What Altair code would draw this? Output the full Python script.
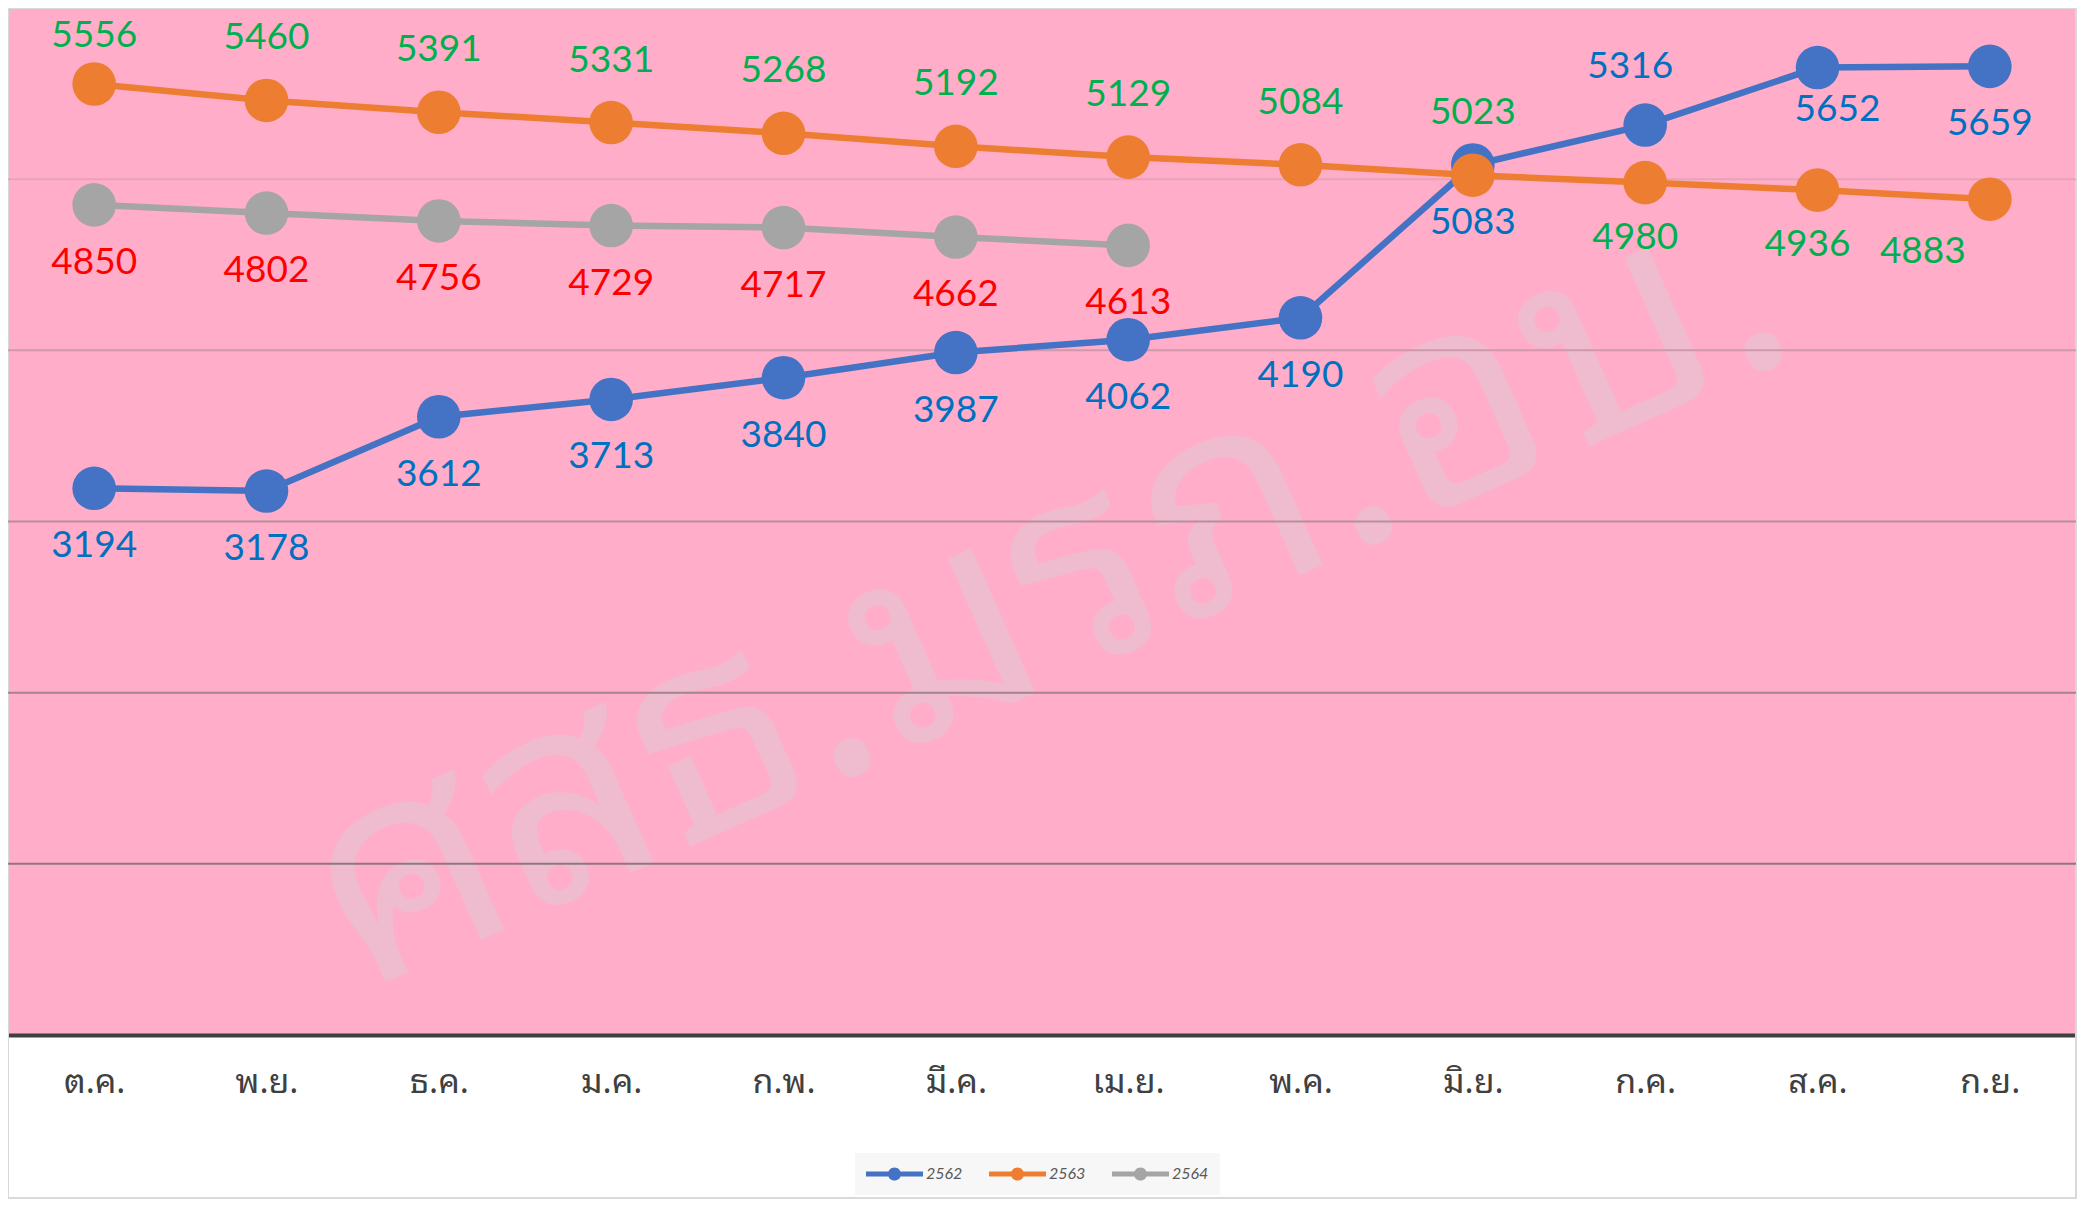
import altair as alt
import pandas as pd

months = ["ต.ค.", "พ.ย.", "ธ.ค.", "ม.ค.", "ก.พ.", "มี.ค.", "เม.ย.", "พ.ค.", "มิ.ย.", "ก.ค.", "ส.ค.", "ก.ย."]
years = ["2562", "2563", "2564"]
y2562 = [3194, 3178, 3612, 3713, 3840, 3987, 4062, 4190, 5083, 5316, 5652, 5659]
y2563 = [5556, 5460, 5391, 5331, 5268, 5192, 5129, 5084, 5023, 4980, 4936, 4883]
y2564 = [4850, 4802, 4756, 4729, 4717, 4662, 4613]
grid_values = [1000, 2000, 3000, 4000, 5000]
watermark = "ศสธ.มรภ.อบ."

line_colors = ["#4472C4", "#ED7D31", "#A5A5A5"]

rows = []
for yr, vals in zip(years, [y2562, y2563, y2564]):
    for m, v in zip(months, vals):
        rows.append({"month": m, "year": yr, "value": v})
df = pd.DataFrame(rows)

W, H = 2068, 1027
THAI = "Noto Sans Thai Looped, Loma, Noto Serif Thai, Garuda, Norasi, Noto Sans Thai, sans-serif"
NUMF = "Lato, Noto Sans, sans-serif"

xenc = alt.X("month:N", sort=months, scale=alt.Scale(type="point", padding=0.5),
             axis=alt.Axis(title=None, labelAngle=0, ticks=False, grid=False,
                           domainColor="#404040", domainWidth=4,
                           labelFontSize=34, labelColor="#404040", labelFont=THAI,
                           labelPadding=30))
yscale = alt.Scale(domain=[0, 6000], nice=False, zero=True)
yenc = alt.Y("value:Q", scale=yscale, axis=None)

base = alt.Chart(df)

border = alt.Chart(pd.DataFrame({"k": [0]})).mark_rect(
    fill="transparent", stroke="#D9D9D9", strokeWidth=2
).encode(x=alt.value(0), x2=alt.value(W), y=alt.value(0), y2=alt.value(1190))

wm = alt.Chart(pd.DataFrame({"t": [watermark]})).mark_text(
    fontSize=285, font=THAI, angle=336, color="#EFBCCF", align="center", baseline="middle"
).encode(text="t:N", x=alt.value(1040), y=alt.value(585))

grid = alt.Chart(pd.DataFrame({"g": grid_values})).mark_rule(strokeWidth=2).encode(
    y=alt.Y("g:Q", scale=yscale, axis=None),
    stroke=alt.Stroke("g:Q", scale=alt.Scale(domain=[1000, 5000], range=["#8C787F", "#E6A3BA"]), legend=None),
)

color_scale = alt.Scale(domain=years, range=line_colors)

legend_path = ("M-1,-0.09 L1,-0.09 L1,0.09 L-1,0.09 Z "
               "M-0.23,0 A0.23,0.23 0 1,1 0.23,0 A0.23,0.23 0 1,1 -0.23,0 Z")
legend = alt.Legend(title=None, orient="none", direction="horizontal",
                    legendX=847, legendY=1145,
                    fillColor="#F7F7F7", padding=11,
                    symbolType=legend_path, symbolSize=3249,
                    symbolStrokeWidth=0, symbolOpacity=1,
                    symbolFillColor=None,
                    clipHeight=20, columnPadding=26, labelOffset=3,
                    labelFontSize=16, labelColor="#595959",
                    labelFont=NUMF, labelFontStyle="italic")

color_enc = alt.Color("year:N", scale=color_scale, sort=years, legend=legend)

lines = base.mark_line(strokeWidth=6.5).encode(
    x=xenc, y=yenc, color=color_enc, detail="year:N"
)

points = base.mark_point(filled=True, size=1900, opacity=1).encode(
    x=xenc, y=yenc, color=color_enc,
)

last3 = ["ก.ค.", "ส.ค.", "ก.ย."]

def labels(flt, dy, color, dx=0):
    return base.transform_filter(flt).mark_text(
        fontSize=37, font=NUMF, color=color, dy=dy, dx=dx, baseline="middle", align="center"
    ).encode(x=xenc, y=yenc, text="value:Q")

lab_a0 = labels("datum.year == '2563' && datum.month == 'ต.ค.'", -48, "#00B050")
lab_a = labels("datum.year == '2563' && datum.month != 'ต.ค.' && indexof(%s, datum.month) < 0" % str(last3), -62, "#00B050")
lab_b = labels("datum.year == '2563' && (datum.month == 'ก.ค.' || datum.month == 'ส.ค.')", 55, "#00B050", -10)
lab_b2 = labels("datum.year == '2563' && datum.month == 'ก.ย.'", 53, "#00B050", -67)
lab_c = labels("datum.year == '2564'", 58, "#FF0000")
lab_d = labels("datum.year == '2562' && indexof(['ก.ค.', 'ส.ค.'], datum.month) < 0", 58, "#0070C0")
lab_d2 = labels("datum.year == '2562' && datum.month == 'ส.ค.'", 42, "#0070C0", 20)
lab_e = labels("datum.year == '2562' && datum.month == 'ก.ค.'", -58, "#0070C0", -15)

chart = alt.layer(border, wm, grid, lines, points, lab_a0, lab_a, lab_b, lab_b2, lab_c, lab_d, lab_d2, lab_e).properties(
    width=W, height=H,
    autosize=alt.AutoSizeParams(type="none"),
    padding={"left": 0, "top": 0, "right": 2, "bottom": 165},
    background="white",
).configure_view(fill="#FFADC8", stroke=None)

chart.save("out.html", embed_options={"renderer": "svg", "actions": False})
